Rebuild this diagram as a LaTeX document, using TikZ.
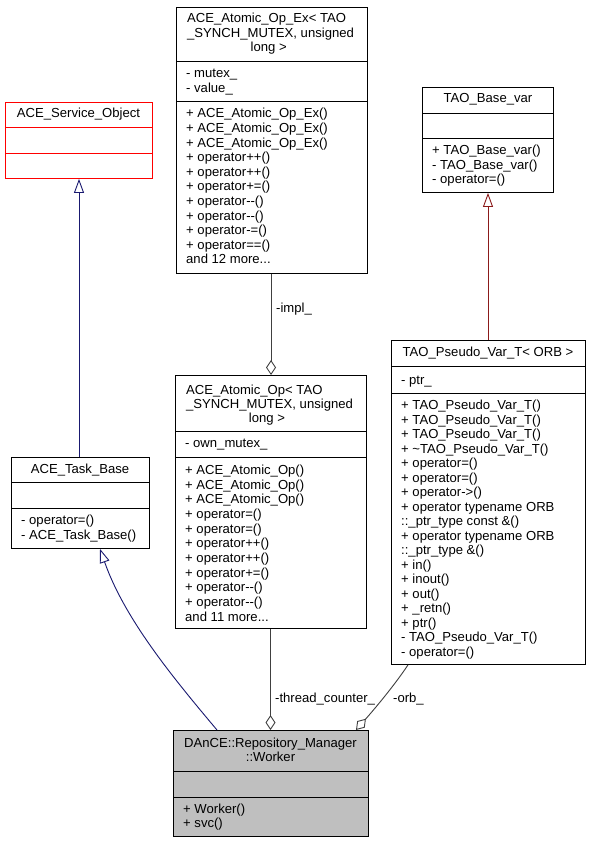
\documentclass[tikz,border=0pt]{standalone}
\usepackage{fontspec}
\newfontfamily\dxfont{Liberation Sans}
\usetikzlibrary{arrows.meta}
\newcommand\threedots{...}
\definecolor{inhblue}{RGB}{25,25,112}
\definecolor{inhred}{RGB}{139,26,26}
\definecolor{aggray}{RGB}{64,64,64}
\definecolor{workerfill}{RGB}{191,191,191}
\begin{document}
\begin{tikzpicture}[x=1pt,y=-1pt,
  box/.style={draw=black,line width=0.9pt,inner sep=0pt,anchor=north west},
  txt/.style={inner sep=0pt,anchor=base west,font=\dxfont\fontsize{13.1}{14.6}\selectfont},
  ttl/.style={inner sep=0pt,anchor=base,font=\dxfont\fontsize{13.1}{14.6}\selectfont},
  inh/.style={line width=0.9pt,-{Triangle[open,length=14pt,width=10pt]}},
  agg/.style={line width=0.9pt,color=aggray,-{Diamond[open,length=15pt,width=10pt]}}]
\useasboundingbox (0,0) rectangle (591,843);
\fill[white] (0,0) rectangle (591,843);

% ---- boxes ----
\node[box,draw=red,minimum width=147pt,minimum height=76pt] (service) at (5,102) {};
\draw[red,line width=0.9pt] (5,127) -- (152,127) (5,153) -- (152,153);

\node[box,minimum width=191pt,minimum height=266pt] (opex) at (176,7) {};
\draw[line width=0.9pt] (176,61) -- (367,61) (176,101) -- (367,101);

\node[box,minimum width=131pt,minimum height=105pt] (basevar) at (422,87) {};
\draw[line width=0.9pt] (422,113) -- (553,113) (422,138) -- (553,138);

\node[box,minimum width=194pt,minimum height=324pt] (pseudo) at (391,340) {};
\draw[line width=0.9pt] (391,366) -- (585,366) (391,393) -- (585,393);

\node[box,minimum width=191pt,minimum height=253pt] (atop) at (175,375) {};
\draw[line width=0.9pt] (175,431) -- (366,431) (175,457) -- (366,457);

\node[box,minimum width=138pt,minimum height=91pt] (taskbase) at (11,457) {};
\draw[line width=0.9pt] (11,482) -- (149,482) (11,508) -- (149,508);

\node[box,fill=workerfill,minimum width=195pt,minimum height=106pt] (worker) at (173,730) {};
\draw[line width=0.9pt] (173,771) -- (368,771) (173,797) -- (368,797);

% ---- titles ----
\node[ttl] (serviceT) at (78.5,117.8) {ACE\_Service\_Object};
\node[ttl] (taskbaseT) at (80,473.8) {ACE\_Task\_Base};
\node[txt] (opexT1) at (187,22.8) {ACE\_Atomic\_Op\_Ex< TAO};
\node[txt] (opexT2) at (187,37.4) {\_SYNCH\_MUTEX, unsigned};
\node[ttl] (opexT3) at (268.7,52.0) {long >};
\node[txt] (atopT1) at (186,394.5) {ACE\_Atomic\_Op< TAO};
\node[txt] (atopT2) at (186,408.6) {\_SYNCH\_MUTEX, unsigned};
\node[ttl] (atopT3) at (267,422.6) {long >};
\node[ttl] (basevarT) at (488,102.8) {TAO\_Base\_var};
\node[ttl] (pseudoT) at (488,356.2) {TAO\_Pseudo\_Var\_T< ORB >};
\node[ttl] (workerT1) at (270.5,747.5) {DAnCE::Repository\_Manager};
\node[ttl] (workerT2) at (270.5,761.8) {::Worker};

% ---- members ----
\node[txt] (opexA1) at (186,77.5) {- mutex\_};
\node[txt] (opexA2) at (186,92.1) {- value\_};
\foreach \t [count=\i] in {+ ACE\_Atomic\_Op\_Ex(),+ ACE\_Atomic\_Op\_Ex(),+ ACE\_Atomic\_Op\_Ex(),
  + operator++(),+ operator++(),+ operator+=(),+ operator--(),+ operator--(),
  + operator-=(),+ operator==(),{and 12 more\threedots}}
  \node[txt] (opexM\i) at (186,{117.8+14.6*(\i-1)}) {\t};

\node[txt] (atopA1) at (185,447.2) {- own\_mutex\_};
\foreach \t [count=\i] in {+ ACE\_Atomic\_Op(),+ ACE\_Atomic\_Op(),+ ACE\_Atomic\_Op(),
  + operator=(),+ operator=(),+ operator++(),+ operator++(),+ operator+=(),
  + operator--(),+ operator--(),{and 11 more\threedots}}
  \node[txt] (atopM\i) at (185,{474.5+14.67*(\i-1)}) {\t};

\foreach \t [count=\i] in {+ TAO\_Base\_var(),- TAO\_Base\_var(),- operator=()}
  \node[txt] (basevarM\i) at (432,{154.5+14.5*(\i-1)}) {\t};

\node[txt] (pseudoA1) at (401,384) {- ptr\_};
\foreach \t [count=\i] in {+ TAO\_Pseudo\_Var\_T(),+ TAO\_Pseudo\_Var\_T(),+ TAO\_Pseudo\_Var\_T(),
  + \textasciitilde TAO\_Pseudo\_Var\_T(),+ operator=(),+ operator=(),+ operator->(),
  + operator typename ORB,::\_ptr\_type const \&(),+ operator typename ORB,::\_ptr\_type \&(),
  + in(),+ inout(),+ out(),+ \_retn(),+ ptr(),- TAO\_Pseudo\_Var\_T(),- operator=()}
  \node[txt] (pseudoM\i) at (401,{409.5+14.53*(\i-1)}) {\t};

\node[txt] (taskbaseM1) at (21,524.5) {- operator=()};
\node[txt] (taskbaseM2) at (21,539.3) {- ACE\_Task\_Base()};

\node[txt] (workerM1) at (183,813.5) {+ Worker()};
\node[txt] (workerM2) at (183,827.8) {+ svc()};

% ---- connectors ----
\draw[inh,color=inhblue] (taskbase.north -| 79,0) -- (service.south -| 79,0);
\draw[inh,color=inhred] (pseudo.north -| 488,0) -- (basevar.south -| 488,0);
\coordinate (wTop) at (worker.north -| 217,0);
\coordinate (tbBot) at (taskbase.south -| 100,0);
\draw[inh,color=inhblue] (wTop) .. controls (175,680) and (125,620) .. (tbBot);

\draw[agg] (opex.south -| 271,0) -- (atop.north -| 271,0);
\draw[agg] (atop.south -| 270.5,0) -- (worker.north -| 270.5,0);
\coordinate (pBot) at (pseudo.south -| 408,0);
\coordinate (wOrb) at (worker.north -| 356,0);
\draw[agg] (pBot) .. controls (396,683) and (378,705) .. (wOrb);

\node[txt] (implL) at (276,312.5) {-impl\_};
\node[txt] (threadL) at (275,702.5) {-thread\_counter\_};
\node[txt] (orbL) at (393,702.5) {-orb\_};
\end{tikzpicture}
\end{document}
